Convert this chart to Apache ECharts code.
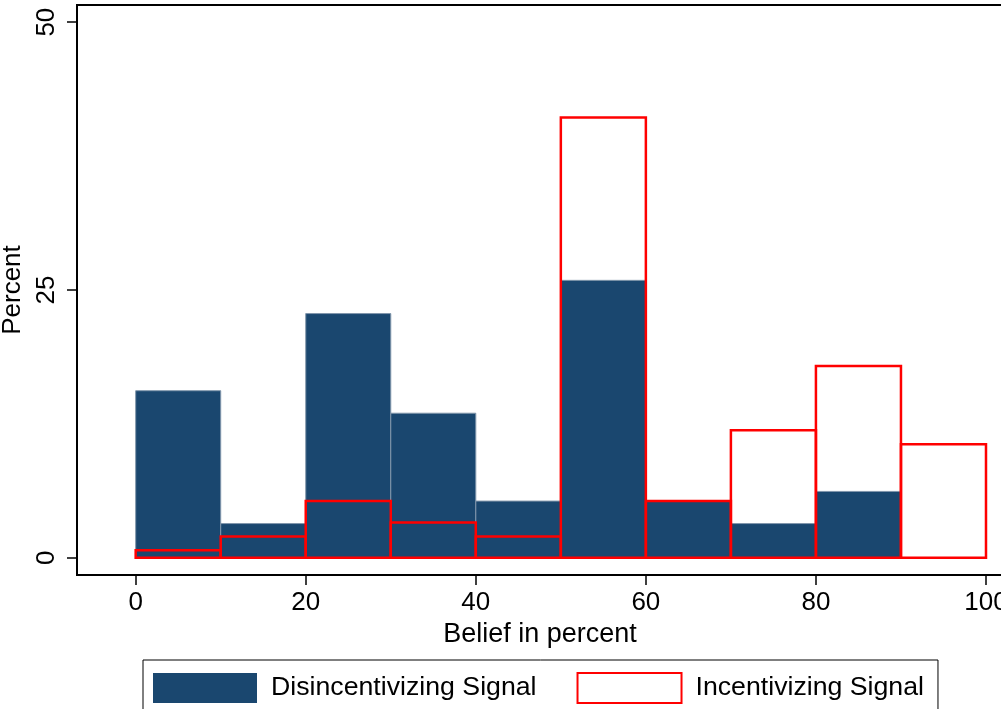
<!DOCTYPE html>
<html>
<head>
<meta charset="utf-8">
<script src="https://cdn.jsdelivr.net/npm/echarts@6/dist/echarts.min.js"></script>
<style>
html, body { margin: 0; padding: 0; background: #fff; }
#chart { width: 1001px; height: 709px; }
</style>
</head>
<body>
<div id="chart"></div>
<script>
// histogram bins (belief in percent), 10-point wide
var binStarts = [0, 10, 20, 30, 40, 50, 60, 70, 80, 90];
var binWidth = 10;
// percent of respondents per bin
var disincentivizing = [15.6, 3.2, 22.8, 13.5, 5.3, 25.9, 5.3, 3.2, 6.2, 0];
var incentivizing = [0.7, 2.0, 5.3, 3.3, 2.0, 41.1, 5.3, 11.9, 17.9, 10.6];
var xTicks = [0, 20, 40, 60, 80, 100];
var yTicks = [0, 25, 50];

var navy = '#1a476f';
var red = '#ff0000';
var font = 'Liberation Sans, Arial, sans-serif';

function toBins(vals) {
    var out = [];
    for (var i = 0; i < binStarts.length; i++) {
        out.push([binStarts[i], binStarts[i] + binWidth, vals[i]]);
    }
    return out;
}

function histRect(fill, stroke, lw) {
    return function (params, api) {
        var p0 = api.coord([api.value(0), api.value(2)]);
        var p1 = api.coord([api.value(1), 0]);
        return {
            type: 'rect',
            shape: { x: p0[0], y: p0[1], width: p1[0] - p0[0], height: p1[1] - p0[1] },
            style: { fill: fill, stroke: stroke, lineWidth: lw }
        };
    };
}

var chart = echarts.init(document.getElementById('chart'));
var option = {
    animation: false,
    backgroundColor: '#fff',
    grid: {
        left: 77, top: 5, width: 926, height: 570,
        containLabel: false,
        outerBoundsMode: 'none',
        show: true, borderColor: '#000', borderWidth: 2, backgroundColor: '#fff'
    },
    xAxis: {
        type: 'value',
        min: -6.9, max: 102,
        name: 'Belief in percent',
        nameLocation: 'middle',
        nameGap: 41,
        nameTextStyle: { color: '#000', fontSize: 27, fontFamily: font },
        axisLine: { show: true, onZero: false, lineStyle: { color: '#000', width: 2 } },
        axisTick: { show: true, length: 10, customValues: xTicks, lineStyle: { color: '#000', width: 1.5 } },
        axisLabel: { customValues: xTicks, margin: 15, color: '#000', fontSize: 26, fontFamily: font },
        splitLine: { show: false }
    },
    yAxis: {
        type: 'value',
        min: -1.6, max: 51.6,
        name: 'Percent',
        nameLocation: 'middle',
        nameGap: 32,
        nameTextStyle: { color: '#000', fontSize: 26, fontFamily: font },
        axisLine: { show: true, onZero: false, lineStyle: { color: '#000', width: 2 } },
        axisTick: { show: true, length: 10, customValues: yTicks, lineStyle: { color: '#000', width: 1.5 } },
        axisLabel: { customValues: yTicks, rotate: 90, margin: 17, color: '#000', fontSize: 26, fontFamily: font },
        splitLine: { show: false }
    },
    legend: {
        left: 143, top: 660,
        orient: 'horizontal',
        borderColor: '#000', borderWidth: 1,
        padding: [12, 14, 12, 10],
        itemWidth: 104, itemHeight: 30,
        itemGap: 40,
        textStyle: { color: '#000', fontSize: 26.7, fontFamily: font, padding: [0, 0, 0, 9] },
        data: [
            { name: 'Disincentivizing Signal', icon: 'rect', itemStyle: { color: navy, borderWidth: 0 } },
            { name: 'Incentivizing Signal', icon: 'rect', itemStyle: { color: '#fff', borderColor: red, borderWidth: 2 } }
        ]
    },
    series: [
        {
            name: 'Disincentivizing Signal',
            type: 'custom',
            renderItem: histRect(navy, '#8196ab', 1),
            encode: { x: [0, 1], y: 2 },
            itemStyle: { color: navy },
            data: toBins(disincentivizing)
        },
        {
            name: 'Incentivizing Signal',
            type: 'custom',
            renderItem: histRect('none', red, 2.5),
            encode: { x: [0, 1], y: 2 },
            itemStyle: { color: '#fff', borderColor: red },
            data: toBins(incentivizing)
        }
    ]
};
chart.setOption(option);
window.onresize = function () {
    chart.resize();
};
</script>
</body>
</html>
